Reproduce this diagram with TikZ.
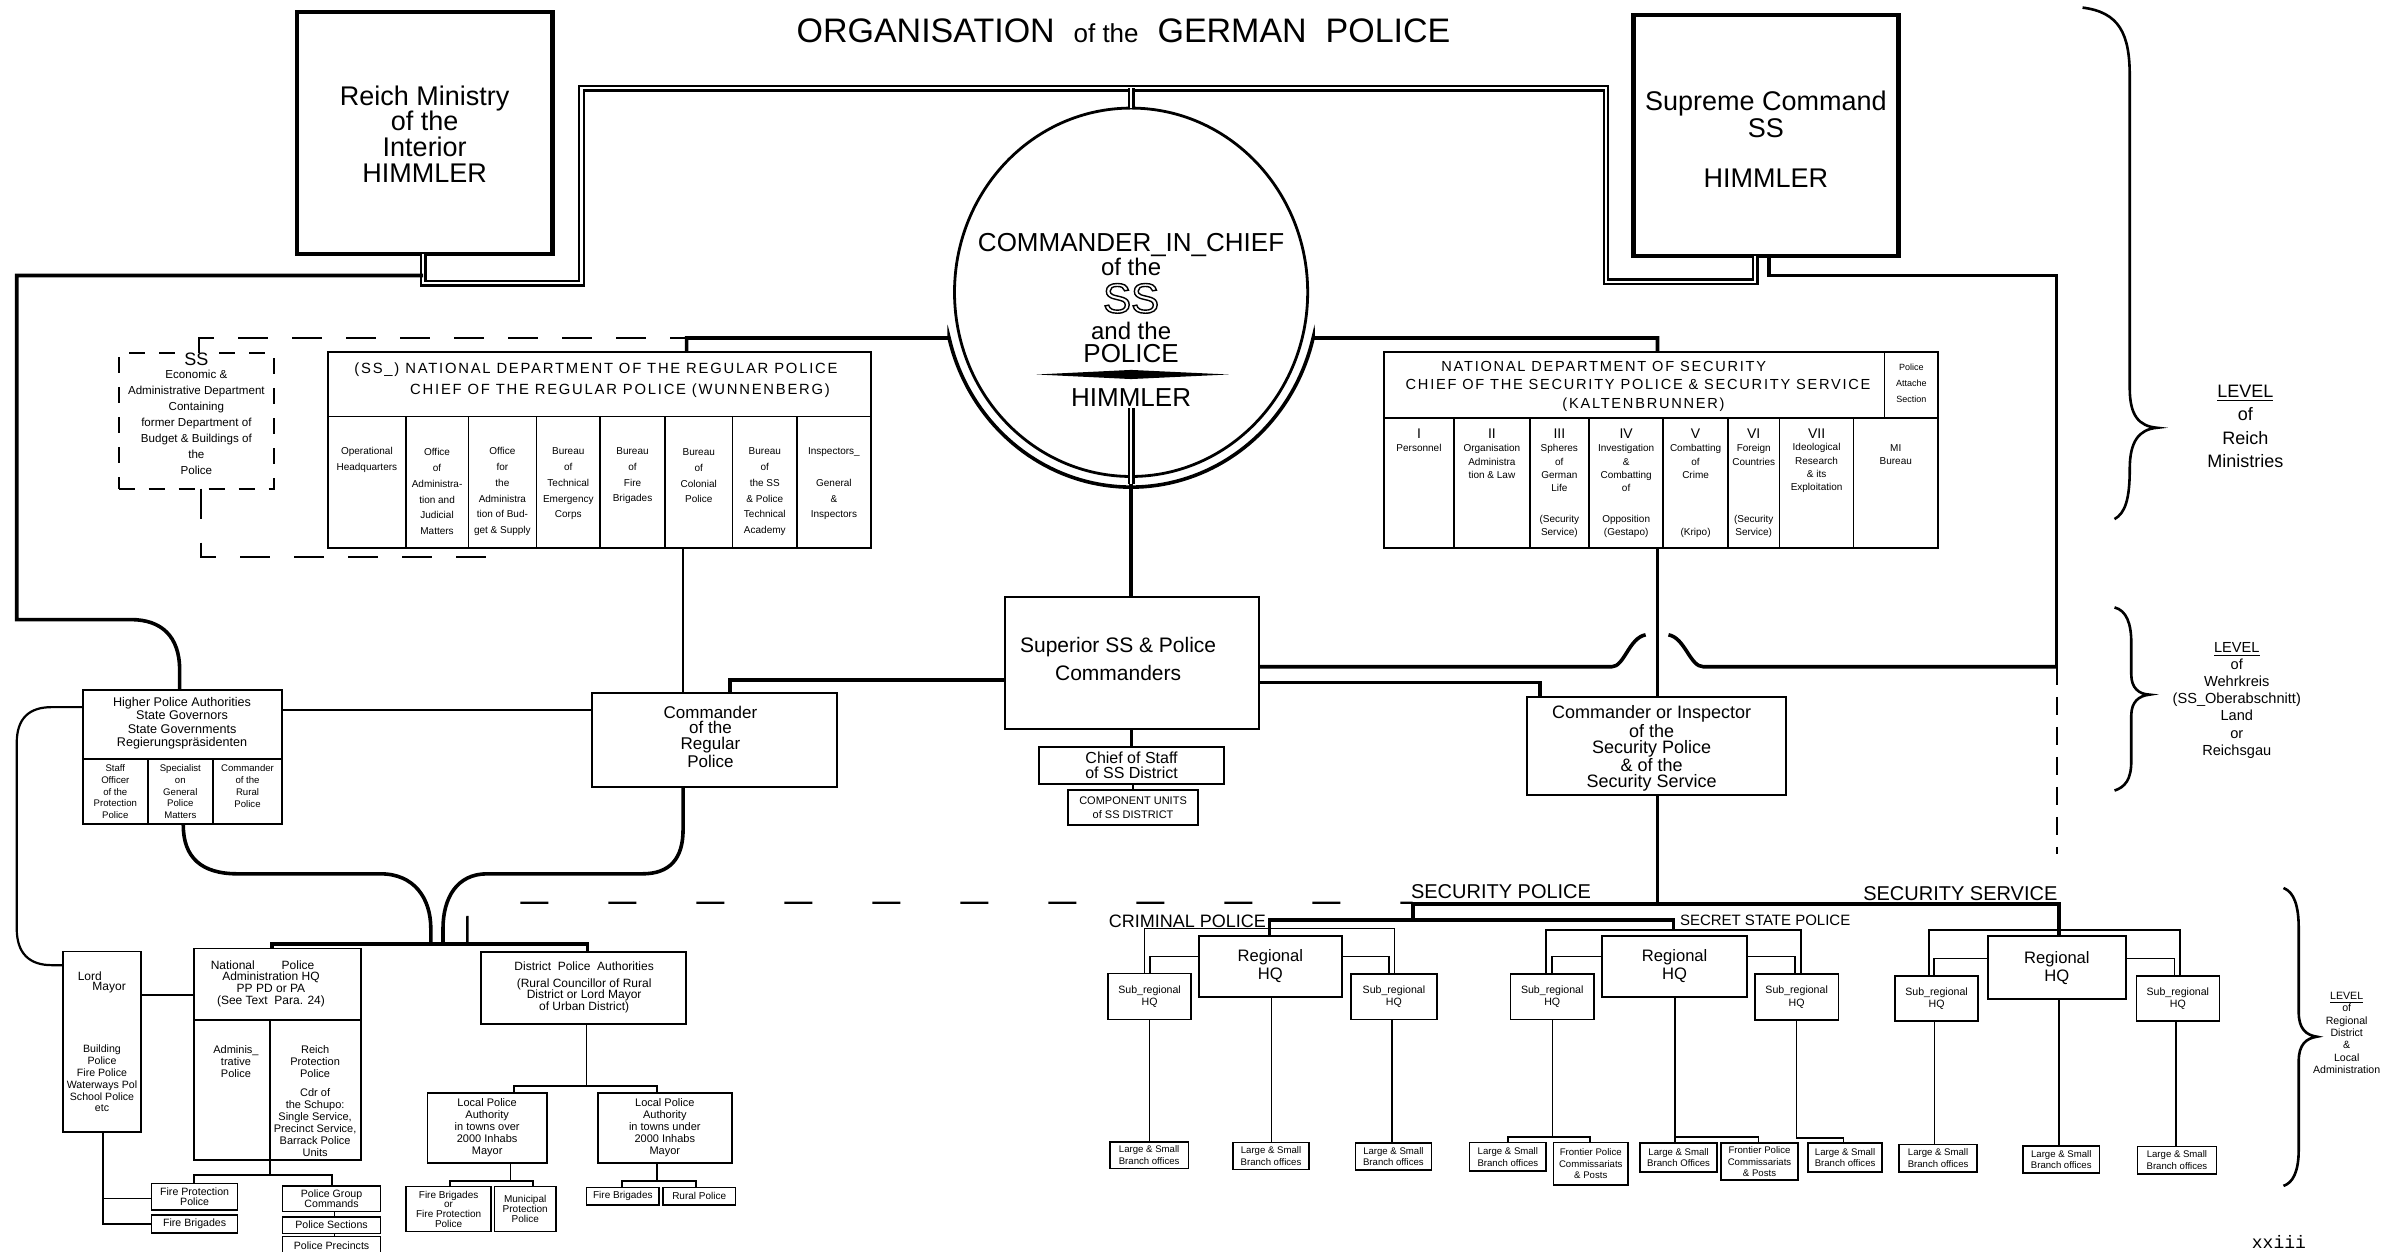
\documentclass[tikz,border=0pt]{standalone}
\usepackage{fontspec}
\setmainfont{Liberation Sans}
\newfontfamily\widefont[LetterSpace=12]{Liberation Sans}
\newfontfamily\tfont{Liberation Mono}
\usetikzlibrary{shapes.geometric}
\newcommand\fsz[2]{\fontsize{#1}{#2}\selectfont}
\newcommand\bx[7][]{\node[box,#1,minimum width={(#5-#3)*0.7612pt},minimum height={(#6-#4)*0.7612pt}] (#2) at ({(#3+#5)/2},{(#4+#6)/2}) {#7};}
\newcommand\tx[5][]{\node[txt,#1] (#2) at (#3,#4) {#5};}
\newcommand\hollow[1]{\special{pdf:literal direct 1 Tr 0.7 w}#1\special{pdf:literal direct 0 Tr}}
\begin{document}
\begin{tikzpicture}[x=0.7612pt,y=-0.7612pt,
 box/.style={draw,line width=0.9pt,inner sep=0pt,outer sep=0pt,align=center},
 bigbox/.style={box,line width=2.2pt},
 sbox/.style={box,line width=0.7pt},
 txt/.style={inner sep=0pt,outer sep=0pt,align=center},
 thk/.style={line width=1.8pt},
 med/.style={line width=1.1pt},
 thn/.style={line width=0.8pt},
 dline/.style={draw=black,double=white,line width=1.15pt,double distance=1.1pt},
 dsh/.style={line width=1pt,dash pattern=on 15pt off 12pt},
 dshv/.style={line width=1pt,dash pattern=on 9pt off 6pt},
 dshl/.style={line width=1.2pt,dash pattern=on 14pt off 30pt},
 dbox/.style={draw,line width=1pt,dash pattern=on 8pt off 7pt,inner sep=0pt,outer sep=0pt},
 brace/.style={line width=1.3pt},
 rcol/.style={txt,font=\fsz{5}{7.9}},
 scol/.style={txt,font=\fsz{5}{6.6}},
 hcol/.style={txt,font=\fsz{4.8}{5.9}},
 sub/.style={box,line width=0.8pt,font=\fsz{5.3}{6.2}},
 ls/.style={box,line width=0.8pt,font=\fsz{4.8}{5.8}},
 reg/.style={box,line width=1pt,font=\fsz{8.3}{8.9}},
 numf/.style={txt,font=\fsz{7}{7}}]
\fill[white] (0,0) rectangle (1568,822.4);
\useasboundingbox (0,0) rectangle (1568,822.4);

% =============== NODES ===============
\tx[font=\fsz{17}{17}]{title}{738}{20}{ORGANISATION\ \ {\fsz{13}{13}of the}\ \ GERMAN\ \ POLICE}

\bx[bigbox]{reich}{195}{8}{363}{167}{}
\tx[font=\fsz{13.5}{12.9}]{reichT}{279}{88}{Reich Ministry\\of the\\Interior\\HIMMLER}
\bx[bigbox]{supreme}{1073}{10}{1247}{168}{}
\tx[font=\fsz{13.5}{10.7}]{supT1}{1160}{75}{Supreme Command\\SS}
\tx[font=\fsz{13.5}{13.5}]{supT2}{1160}{117}{HIMMLER}

\node[draw,ellipse,line width=1.4pt,minimum width={232*0.7612pt},minimum height={242*0.7612pt},inner sep=0pt,outer sep=0pt] (cic) at (743,192) {};
\tx[font=\fsz{13}{13}]{c1}{743}{161}{COMMANDER\_IN\_CHIEF}
\tx[font=\fsz{12}{12}]{c2}{743}{175.5}{of the}
\tx[font=\fsz{21}{21}]{c3}{743}{196}{\hollow{SS}}
\tx[font=\fsz{12}{12}]{c4}{743}{217.5}{and the}
\tx[font=\fsz{13}{13}]{c5}{743}{232}{POLICE}
\tx[font=\fsz{13}{13}]{c6}{743}{261}{HIMMLER}
\fill (681,246) -- (743,243) -- (807,246) -- (743,249) -- cycle;
\fill (743,246) circle[radius=2.6];

% regular police department
\bx{regdept}{215.5}{231}{572}{360}{}
\draw[thn] (215.5,273.5) -- (572,273.5);
\foreach \x in {266.5,307.7,352.3,394.3,436.7,481.2,523.6} \draw[thn] (\x,273.5) -- (\x,360);
\tx[font=\widefont\fsz{7.4}{7.4}]{rh1}{391.5}{243}{(SS\_) NATIONAL DEPARTMENT OF THE REGULAR POLICE}
\tx[font=\widefont\fsz{7.4}{7.4}]{rh2}{407.3}{256.5}{CHIEF OF THE REGULAR POLICE (WUNNENBERG)}
\tx[rcol]{r1}{241}{302.2}{Operational\\Headquarters}
\tx[rcol]{r2}{287.1}{323}{Office\\of\\Administra-\\tion and\\Judicial\\Matters}
\tx[rcol]{r3}{330}{323}{Office\\for\\the\\Administra\\tion of Bud-\\get \& Supply}
\tx[rcol]{r4}{373.3}{317.8}{Bureau\\of\\Technical\\Emergency\\Corps}
\tx[rcol]{r5}{415.5}{312.6}{Bureau\\of\\Fire\\Brigades}
\tx[rcol]{r6}{459}{312.6}{Bureau\\of\\Colonial\\Police}
\tx[rcol]{r7}{502.4}{323}{Bureau\\of\\the SS\\\& Police\\Technical\\Academy}
\tx[rcol]{r8}{547.8}{317.8}{Inspectors\_\\[7.9pt]General\\\&\\Inspectors}

% SS economic
\bx[dbox]{sseco}{78}{232}{180}{321}{}
\tx[font=\fsz{9}{9},fill=white,inner sep=1pt]{se1}{129}{236}{SS}
\tx[font=\fsz{5.8}{8}]{se2}{129}{277.5}{Economic \&\\Administrative Department\\Containing\\former Department of\\Budget \& Buildings of\\the\\Police}

% security department
\bx{secdept}{909}{231}{1273}{360}{}
\draw[thn] (909,274.6) -- (1273,274.6);
\draw[thn] (1238,231) -- (1238,274.6);
\foreach \x in {955.2,1004.9,1043.8,1092.5,1135,1169,1217.6} \draw[thn] (\x,274.6) -- (\x,360);
\tx[font=\widefont\fsz{7.3}{7.3}]{sh1}{1053.5}{241}{NATIONAL DEPARTMENT OF SECURITY}
\tx[font=\widefont\fsz{7.3}{7.3}]{sh2}{1076}{252.5}{CHIEF OF THE SECURITY POLICE \& SECURITY SERVICE}
\tx[font=\widefont\fsz{7.3}{7.3}]{sh3}{1079.6}{266}{(KALTENBRUNNER)}
\tx[font=\fsz{4.5}{8}]{attT}{1255.5}{252}{Police\\Attache\\Section}
\tx[numf]{n1}{932.1}{285}{I}
\tx[numf]{n2}{980}{285}{II}
\tx[numf]{n3}{1024.3}{285}{III}
\tx[numf]{n4}{1068.2}{285}{IV}
\tx[numf]{n5}{1113.8}{285}{V}
\tx[numf]{n6}{1152}{285}{VI}
\tx[numf]{n7}{1193.3}{285}{VII}
\tx[scol]{s1}{932.1}{294.5}{Personnel}
\tx[scol]{s2}{980}{303.2}{Organisation\\Administra\\tion \& Law}
\tx[scol]{s3}{1024.3}{307.55}{Spheres\\of\\German\\Life}
\tx[scol]{s3b}{1024.3}{345.6}{(Security\\Service)}
\tx[scol]{s4}{1068.2}{307.55}{Investigation\\\&\\Combatting\\of}
\tx[scol]{s4b}{1068.2}{345.6}{Opposition\\(Gestapo)}
\tx[scol]{s5}{1113.8}{303.2}{Combatting\\of\\Crime}
\tx[scol]{s5b}{1113.8}{350}{(Kripo)}
\tx[scol]{s6}{1152}{298.85}{Foreign\\Countries}
\tx[scol]{s6b}{1152}{345.6}{(Security\\Service)}
\tx[scol]{s7}{1193.3}{307.55}{Ideological\\Research\\\& its\\Exploitation}
\tx[scol]{s8}{1245.3}{298.85}{MI\\Bureau}

% Wehrkreis level
\bx{sup}{660}{392}{827}{479}{}
\tx[font=\fsz{10.5}{13.9}]{supT}{734.5}{433}{Superior SS \& Police\\Commanders}
\bx{chief}{682.5}{490.6}{804}{515}{}
\tx[font=\fsz{8}{7.5}]{chiefT}{743.3}{503}{Chief of Staff\\of SS District}
\bx{comp}{701.6}{519}{787}{542}{}
\tx[font=\fsz{5.5}{6.7}]{compT}{744.3}{530.5}{COMPONENT UNITS\\of SS DISTRICT}
\bx{cmdreg}{389}{455}{550}{517}{}
\tx[font=\fsz{8.5}{7.8}]{cmdregT}{466.7}{484}{Commander\\of the\\Regular\\Police}
\bx{cmdsec}{1003}{457.6}{1173}{522.2}{}
\tx[font=\fsz{9}{7.9}]{cmdsecT}{1085}{491.6}{Commander or Inspector\\of the\\Security Police\\\& of the\\Security Service}

\bx{hpa}{54.4}{453.3}{185.4}{541.3}{}
\draw[thn] (54.4,498.6) -- (185.4,498.6);
\draw[thn] (97.1,498.6) -- (97.1,541.3);
\draw[thn] (139.8,498.6) -- (139.8,541.3);
\tx[font=\fsz{6.3}{6.7}]{hpaT}{119.6}{475.2}{Higher Police Authorities\\State Governors\\State Governments\\Regierungspräsidenten}
\tx[hcol]{h1}{75.75}{520}{Staff\\Officer\\of the\\Protection\\Police}
\tx[hcol]{h2}{118.45}{520}{Specialist\\on\\General\\Police\\Matters}
\tx[hcol]{h3}{162.6}{516.3}{Commander\\of the\\Rural\\Police}

% local level (regular police)
\bx{lord}{41.4}{625}{92.4}{743.4}{}
\tx[font=\fsz{6}{6}]{lordT1}{59}{641}{Lord}
\tx[font=\fsz{6}{6}]{lordT2}{71.7}{648.5}{Mayor}
\tx[font=\fsz{5.3}{5.9}]{lordT3}{67}{708.5}{Building\\Police\\Fire Police\\Waterways Pol\\School Police\\etc}
\bx{natpol}{127.4}{623}{237.2}{762}{}
\draw[thn] (127.4,670) -- (237.2,670);
\draw[thn] (177.4,670) -- (177.4,762);
\tx[font=\fsz{6}{6}]{np1}{152.9}{634}{National}
\tx[font=\fsz{6}{6}]{np2}{195.8}{634}{Police}
\tx[font=\fsz{6}{6.1}]{np3}{178}{650}{Administration HQ\\PP PD or PA\\(See Text\ \ Para. 24)}
\tx[font=\fsz{5.5}{5.9}]{np4}{155}{697.4}{Adminis\_\\trative\\Police}
\tx[font=\fsz{5.5}{5.9}]{np5}{207}{697.4}{Reich\\Protection\\Police}
\tx[font=\fsz{5.5}{5.97}]{np6}{207}{737.6}{Cdr of\\the Schupo:\\Single Service,\\Precinct Service,\\Barrack Police\\Units}
\bx[sbox,font=\fsz{5.3}{5}]{firepp}{99.7}{777.3}{156}{794.9}{Fire Protection\\Police}
\bx[sbox,font=\fsz{5.3}{5}]{firebr}{99.7}{798}{156}{810}{Fire Brigades}
\bx[sbox,font=\fsz{5.3}{5}]{pgc}{185.6}{779}{250}{796}{Police Group\\Commands}
\bx[sbox,font=\fsz{5.3}{5}]{psec}{185.6}{799.3}{250}{810.2}{Police Sections}
\bx[sbox,font=\fsz{5.3}{5}]{pprec}{185.6}{812.4}{250}{824}{Police Precincts}
\bx{district}{316.2}{625.2}{450.6}{672.7}{}
\tx[font=\fsz{6}{6}]{dT1}{383.7}{635}{District\ \ Police\ \ Authorities}
\tx[font=\fsz{6}{5.8}]{dT2}{383.7}{654}{(Rural Councillor of Rural\\District or Lord Mayor\\of Urban District)}
\bx[font=\fsz{5.5}{6}]{lpover}{280.8}{717.8}{359.2}{763.8}{Local Police\\Authority\\in towns over\\2000 Inhabs\\Mayor}
\bx[font=\fsz{5.5}{6}]{lpunder}{392.6}{717.8}{480.8}{763.8}{Local Police\\Authority\\in towns under\\2000 Inhabs\\Mayor}
\bx[sbox,font=\fsz{5}{4.9}]{fbfpp}{266.8}{779.5}{322.6}{809.1}{Fire Brigades\\or\\Fire Protection\\Police}
\bx[sbox,font=\fsz{5}{4.9}]{mpp}{324.8}{779.5}{365.2}{809.1}{Municipal\\Protection\\Police}
\bx[sbox,font=\fsz{5}{5}]{fbr2}{385.3}{780}{433}{791.6}{Fire Brigades}
\bx[sbox,font=\fsz{5}{5}]{rural}{435.6}{780}{483}{791.6}{Rural Police}

% security police / security service
\tx[font=\fsz{10}{10}]{sipoT}{986}{585.7}{SECURITY POLICE}
\tx[font=\fsz{10}{10}]{sdT}{1287.7}{586.8}{SECURITY SERVICE}
\tx[font=\fsz{9}{9}]{kripoT}{780}{605.5}{CRIMINAL POLICE}
\tx[font=\fsz{7.5}{7.5}]{gestT}{1159.5}{604.5}{SECRET STATE POLICE}
\bx[reg]{kr}{787.4}{614.9}{881.6}{654.7}{Regional\\HQ}
\bx[sub]{ksl}{727.9}{639.4}{782.4}{669.6}{Sub\_regional\\HQ}
\bx[sub]{ksr}{887.5}{640}{943.8}{669.6}{Sub\_regional\\HQ}
\bx[ls]{klsA}{729.1}{750}{780.6}{767.5}{Large \& Small\\Branch offices}
\bx[ls]{klsB}{810}{750.6}{859.8}{768.3}{Large \& Small\\Branch offices}
\bx[ls]{klsC}{890.4}{751}{940.2}{768.5}{Large \& Small\\Branch offices}
\bx[reg]{gr}{1052.6}{614.9}{1147.5}{654.7}{Regional\\HQ}
\bx[sub]{gsl}{992.2}{640}{1047.1}{669.6}{Sub\_regional\\HQ}
\bx[sub]{gsr}{1152.7}{640}{1207.7}{670}{Sub\_regional\\HQ}
\bx[ls]{glsA}{965.4}{750.6}{1015.6}{769.3}{Large \& Small\\Branch offices}
\bx[ls]{gfpA}{1020.4}{750.6}{1069.5}{778.3}{Frontier Police\\Commissariats\\\& Posts}
\bx[ls]{glsB}{1077.3}{751}{1128}{770}{Large \& Small\\Branch Offices}
\bx[ls]{gfpB}{1130.6}{751}{1181}{775.2}{Frontier Police\\Commissariats\\\& Posts}
\bx[ls]{glsC}{1187.7}{751}{1236.3}{770}{Large \& Small\\Branch offices}
\bx[reg]{sdr}{1306}{614.9}{1396.3}{656.4}{Regional\\HQ}
\bx[sub]{sdsl}{1244.8}{641.2}{1299.4}{670.7}{Sub\_regional\\HQ}
\bx[sub]{sdsr}{1403.3}{641.2}{1457.9}{670.7}{Sub\_regional\\HQ}
\bx[ls]{sdlsA}{1247.5}{751.7}{1298.7}{769.7}{Large \& Small\\Branch offices}
\bx[ls]{sdlsB}{1328.8}{752.7}{1379.2}{770.7}{Large \& Small\\Branch offices}
\bx[ls]{sdlsC}{1404}{753}{1456}{771}{Large \& Small\\Branch offices}

% level labels
\tx[font=\fsz{9}{11.7}]{lv1}{1475}{280}{\underline{LEVEL}\\of\\Reich\\Ministries}
\tx[font=\fsz{7.3}{8.6}]{lv2}{1469.3}{460}{\underline{LEVEL}\\of\\Wehrkreis\\(SS\_Oberabschnitt)\\Land\\or\\Reichsgau}
\tx[font=\fsz{5.3}{6.2}]{lv3}{1541.5}{678.5}{\underline{LEVEL}\\of\\Regional\\District\\\&\\Local\\Administration}
\tx[font=\tfont\fsz{9}{9}]{pg}{1497}{816}{xxiii}

% =============== CONNECTORS ===============
\draw[dline] (reich.south -| 278,0) -- (278,186) -- (382,186) -- (382,58) -- (1055,58) -- (1055,185) -- (1153,185) -- (supreme.south -| 1153,0);
\draw[dline] (743,58) -- (cic.north);
\draw[thk] (278,181) -- (11,181) -- (11,407) -- (86,407) .. controls (106,407) and (118,418) .. (118,440) -- (hpa.north -| 118,0);
\draw[thk] (supreme.south -| 1162,0) -- (1162,181) -- (1351,181) -- (1351,438);
\draw[dshv] (1351,438) -- (1351,561);

\draw[dsh] (sseco.north -| 131,0) -- (131,222) -- (451,222);
\draw[dsh] (sseco.south -| 132,0) -- (132,366) -- (330,366) -- (regdept.south -| 330,0);

\draw[thk] (regdept.north -| 451,0) -- (451,222) -- (623.4,222) -- plot[domain=166.5:90,samples=40] ({743+123*cos(\x)},{192+128*sin(\x)});
\draw[thk] (secdept.north -| 1088.8,0) -- (1088.8,222) -- (862.6,222) -- plot[domain=13.5:90,samples=40] ({743+123*cos(\x)},{192+128*sin(\x)});
\draw[dline] (743,268) -- (743,318);
\draw[thk] (743,318) -- (sup.north -| 743,0);

\draw[thk] (sup.south -| 743.3,0) -- (chief.north -| 743.3,0);
\draw[med] (chief.south -| 744,0) -- (comp.north -| 744,0);
\draw[med] (regdept.south -| 448.7,0) -- (cmdreg.north -| 448.7,0);
\draw[med] (secdept.south -| 1088.8,0) -- (cmdsec.north -| 1088.8,0);
\draw[med] (cmdsec.south -| 1088.8,0) -- (1088.8,594);
\draw[thk] (sup.east |- 0,438) -- (1058.7,438) .. controls (1067,438) and (1070,419) .. (1081,417);
\draw[thk] (1096,417) .. controls (1107,419) and (1110,438) .. (1119,438) -- (1351,438);
\draw[thk] (sup.east |- 0,448.4) -- (1011.6,448.4) -- (cmdsec.north -| 1011.6,0);
\draw[thk] (sup.west |- 0,446.7) -- (479.5,446.7) -- (cmdreg.north -| 479.5,0);

\draw[med] (hpa.east |- 0,466.4) -- (cmdreg.west |- 0,466.4);
\draw[med] (hpa.west |- 0,464.5) -- (34,464.5) .. controls (19,464.5) and (11,472) .. (11,488) -- (11,610) .. controls (11,626) and (19,634) .. (34,634) -- (lord.west |- 0,634);

\draw[thk] (hpa.south -| 120.4,0) -- (120.4,542) .. controls (120.4,563) and (132,574) .. (156,574) -- (250,574) .. controls (272,574) and (283,590) .. (283,610) -- (283,620);
\draw[thk] (cmdreg.south -| 448.7,0) -- (448.7,545) .. controls (448.7,564) and (440,574) .. (422,574) -- (320,574) .. controls (300,574) and (291,590) .. (291,610) -- (291,620);
\draw[thk] (natpol.north -| 178.6,0) -- (178.6,620) -- (386,620) -- (district.north -| 386,0);
\draw[dshl] (307,620) -- (307,603) .. controls (307,596) and (311,593) .. (318,593) -- (928,593);

\draw[med] (lord.east |- 0,653.6) -- (natpol.west |- 0,653.6);
\draw[thn] (lord.south -| 67.5,0) -- (67.5,804) -- (firebr.west |- 0,804);
\draw[thn] (67.5,787.2) -- (firepp.west |- 0,787.2);
\draw[thn] (natpol.south -| 177.4,0) -- (177.4,772);
\draw[thn] (firepp.north -| 127.4,0) -- (127.4,772) -- (218,772) -- (pgc.north -| 218,0);
\draw[thn] (pgc.south -| 219.8,0) -- (psec.north -| 219.8,0);
\draw[thn] (psec.south -| 219.8,0) -- (pprec.north -| 219.8,0);
\draw[thn] (district.south -| 385.3,0) -- (385.3,713.4);
\draw[thn] (lpover.north -| 337.5,0) -- (337.5,713.4) -- (431.5,713.4) -- (lpunder.north -| 431.5,0);
\draw[thn] (lpover.south -| 335.3,0) -- (335.3,775.6);
\draw[thn] (fbfpp.north -| 295.5,0) -- (295.5,775.6) -- (350,775.6) -- (mpp.north -| 350,0);
\draw[thn] (lpunder.south -| 431.5,0) -- (431.5,775.6);
\draw[thn] (fbr2.north -| 408.6,0) -- (408.6,775.6) -- (457,775.6) -- (rural.north -| 457,0);

\draw[thk] (928,604.4) -- (928,594) -- (1352.7,594) -- (sdr.north -| 1352.7,0);
\draw[thk] (kr.north -| 833.9,0) -- (833.9,604.4) -- (1099.4,604.4) -- (1099.4,611);
\draw[thn] (ksl.north -| 751.7,0) -- (751.7,609.8) -- (916.1,609.8) -- (ksr.north -| 916.1,0);
\draw[thn] (kr.west |- 0,628.4) -- (755.5,628.4) -- (ksl.north -| 755.5,0);
\draw[thn] (kr.east |- 0,628.4) -- (912.5,628.4) -- (ksr.north -| 912.5,0);
\draw[thn] (ksl.south -| 755.2,0) -- (klsA.north -| 755.2,0);
\draw[thn] (kr.south -| 835.2,0) -- (klsB.north -| 835.2,0);
\draw[thn] (ksr.south -| 914.3,0) -- (klsC.north -| 914.3,0);
\draw[thn] (gsl.north -| 1015.6,0) -- (1015.6,611) -- (1183,611) -- (gsr.north -| 1183,0);
\draw[thn] (gr.west |- 0,628.4) -- (1019.5,628.4) -- (gsl.north -| 1019.5,0);
\draw[thn] (gr.east |- 0,628.4) -- (1179,628.4) -- (gsr.north -| 1179,0);
\draw[thn] (gsl.south -| 1019.9,0) -- (1019.9,746.7);
\draw[thn] (glsA.north -| 990.5,0) -- (990.5,746.7) -- (1044.6,746.7) -- (gfpA.north -| 1044.6,0);
\draw[thn] (gr.south -| 1100.2,0) -- (glsB.north -| 1100.2,0);
\draw[thn] (1100.2,746.7) -- (1155,746.7) -- (gfpB.north -| 1155,0);
\draw[thn] (gsr.south -| 1180.2,0) -- (1180.2,747.5) -- (1211,747.5) -- (glsC.north -| 1211,0);
\draw[thn] (sdsl.north -| 1267,0) -- (1267,611) -- (1432,611) -- (sdsr.north -| 1432,0);
\draw[thn] (sdr.west |- 0,629.5) -- (1270.5,629.5) -- (sdsl.north -| 1270.5,0);
\draw[thn] (sdr.east |- 0,629.5) -- (1428.5,629.5) -- (sdsr.north -| 1428.5,0);
\draw[thn] (sdsl.south -| 1270.8,0) -- (sdlsA.north -| 1270.8,0);
\draw[thn] (sdr.south -| 1352.7,0) -- (sdlsB.north -| 1352.7,0);
\draw[thn] (sdsr.south -| 1429.3,0) -- (sdlsC.north -| 1429.3,0);

% level braces
\draw[brace] (1368,5) .. controls (1392,8) and (1399,22) .. (1399,50) -- (1399,255) .. controls (1399,273) and (1405,280) .. (1417,281) .. controls (1405,282) and (1399,290) .. (1399,308) .. controls (1399,328) and (1396,337) .. (1389,341);
\draw[brace] (1389,399) .. controls (1397,401) and (1400,410) .. (1400,422) -- (1400,443) .. controls (1400,452) and (1405,456) .. (1412,456.3) .. controls (1405,457) and (1400,461) .. (1400,470) -- (1400,500) .. controls (1400,512) and (1396,517) .. (1389,519.3);
\draw[brace] (1500,583.3) .. controls (1507,586) and (1510,595) .. (1510,610) -- (1510,665) .. controls (1510,676) and (1515,680) .. (1522,681) .. controls (1515,682) and (1510,686) .. (1510,697) -- (1510,755) .. controls (1510,770) and (1506,777) .. (1500,779);
\end{tikzpicture}
\end{document}
